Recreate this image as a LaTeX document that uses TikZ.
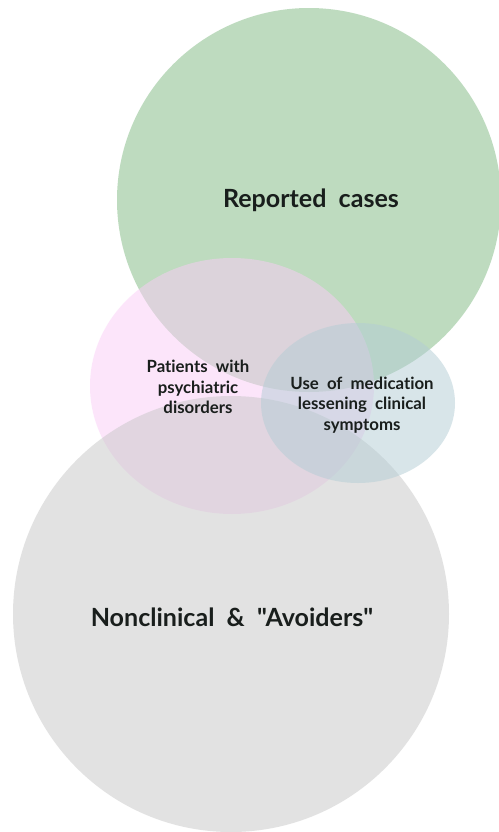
\documentclass[tikz,border=0pt]{standalone}
\usepackage{fontspec}
\setmainfont{Lato}[Ligatures={TeXOff,CommonOff}]
\usepackage{xcolor}
\usepackage{tikz}
\definecolor{repgreen}{RGB}{127,185,129}
\definecolor{psypink}{RGB}{251,205,247}
\definecolor{medblue}{RGB}{179,205,213}
\definecolor{nongray}{RGB}{199,199,199}
\definecolor{inktext}{RGB}{25,30,28}
\tikzset{
  setfill/.style={fill=#1, fill opacity=0.5, draw=none},
  biglabel/.style={font=\bfseries\fontsize{18.8}{22}\selectfont, text=inktext, align=center, inner sep=0pt},
  smalllabel/.style={font=\bfseries\fontsize{12.6}{15.4}\selectfont, text=inktext, align=center, inner sep=0pt}
}
\begin{document}
\begin{tikzpicture}[x=0.75pt, y=-0.75pt]
\useasboundingbox (0,0) rectangle (499,832);
\newcommand\XRep{309}
\newcommand\YRep{200}
\fill[white] (0,0) rectangle (499,832);
\fill[setfill=repgreen] (\XRep,\YRep) circle [radius=192];
\fill[setfill=psypink] (232,386) ellipse [x radius=142, y radius=128];
\fill[setfill=nongray] (231,614) circle [radius=218];
\fill[setfill=medblue] (358,403) ellipse [x radius=97, y radius=80];
\node[biglabel] (Rep) at (\XRep+2,\YRep) {Reported\ \ cases};
\node[smalllabel] (Psy) at (198,387) {Patients\ \ with\\psychiatric\\disorders};
\node[smalllabel] (Med) at (362,405) {Use\ \ of\ \ medication\\lessening\ \ clinical\\symptoms};
\node[biglabel] (Non) at (232,617) {Nonclinical\ \ \&\ \ "Avoiders"};
\end{tikzpicture}
\end{document}
